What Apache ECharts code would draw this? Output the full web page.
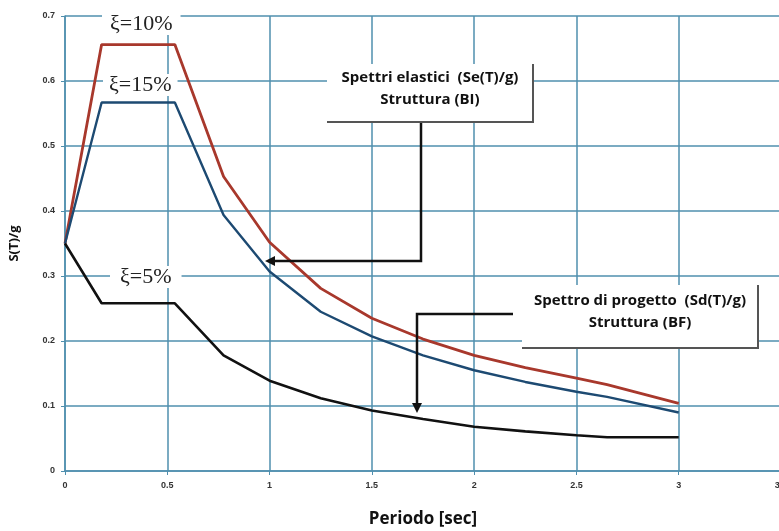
<!DOCTYPE html>
<html>
<head>
<meta charset="utf-8">
<script src="https://cdn.jsdelivr.net/npm/echarts@6/dist/echarts.min.js"></script>
<style>html,body{margin:0;padding:0;background:#fff;}#c{width:779px;height:531px;}</style>
</head>
<body>
<div id="c"></div>
<script>
// Data
var periods = [0, 0.179, 0.537, 0.775, 1.0, 1.25, 1.5, 1.75, 2.0, 2.25, 2.5, 2.65, 3.0];
var xi10 = [0.35, 0.656, 0.656, 0.453, 0.352, 0.281, 0.235, 0.203, 0.178, 0.159, 0.143, 0.133, 0.104];
var xi15 = [0.35, 0.567, 0.567, 0.394, 0.307, 0.245, 0.207, 0.178, 0.155, 0.137, 0.122, 0.114, 0.090];
var xi5  = [0.35, 0.258, 0.258, 0.178, 0.139, 0.112, 0.093, 0.080, 0.068, 0.061, 0.055, 0.052, 0.052];
var xLabels = ['0', '0.5', '1', '1.5', '2', '2.5', '3', '3.5'];
var seriesNames = ['ξ=10%', 'ξ=15%', 'ξ=5%'];

function pairs(ys) { return periods.map(function (x, i) { return [x, ys[i]]; }); }

var gridColor = '#4f8fae';
var chart = echarts.init(document.getElementById('c'));

var boxFont = { fontFamily: 'Open Sans', fontWeight: 'bold', fontSize: 15, fill: '#111', textAlign: 'center', lineHeight: 22 };
var xiFont = '22px "Liberation Serif"';

chart.setOption({
  animation: false,
  backgroundColor: '#fff',
  grid: { left: 65, top: 16, width: 716, height: 455, outerBoundsMode: 'none', containLabel: false },
  xAxis: {
    type: 'value', min: 0, max: 3.5, interval: 0.5,
    name: 'Periodo [sec]', nameLocation: 'middle', nameGap: 40,
    nameTextStyle: { fontFamily: 'Open Sans', fontWeight: 'bold', fontSize: 17, color: '#111' },
    axisLine: { show: true, lineStyle: { color: gridColor, width: 1.5 } },
    axisTick: { show: true, length: 4, lineStyle: { color: gridColor } },
    axisLabel: { fontSize: 9, fontWeight: 'bold', color: '#333', margin: 10,
      formatter: function (v) { return xLabels[Math.round(v / 0.5)]; } },
    splitLine: { show: true, lineStyle: { color: gridColor, width: 1.5 } }
  },
  yAxis: {
    type: 'value', min: 0, max: 0.7, interval: 0.1,
    name: 'S(T)/g', nameLocation: 'middle', nameGap: 44, nameRotate: 90,
    nameTextStyle: { fontFamily: 'Open Sans', fontWeight: 'bold', fontSize: 13, color: '#111' },
    axisLine: { show: true, lineStyle: { color: gridColor, width: 1.5 } },
    axisTick: { show: true, length: 4, lineStyle: { color: gridColor } },
    axisLabel: { fontSize: 9, fontWeight: 'bold', color: '#333', margin: 10 },
    splitLine: { show: true, lineStyle: { color: gridColor, width: 1.5 } }
  },
  series: [
    { name: seriesNames[0], type: 'line', data: pairs(xi10), showSymbol: false, lineStyle: { width: 2.8, color: '#a8382c' }, z: 3 },
    { name: seriesNames[1], type: 'line', data: pairs(xi15), showSymbol: false, lineStyle: { width: 2.4, color: '#1d4a72' }, z: 3 },
    { name: seriesNames[2], type: 'line', data: pairs(xi5), showSymbol: false, lineStyle: { width: 2.6, color: '#111' }, z: 3 }
  ],
  graphic: [
    // xi labels
    { type: 'text', left: 102, top: 13, z: 10, style: { text: seriesNames[0], backgroundColor: '#fff', padding: [0, 8], fill: '#222', font: xiFont } },
    { type: 'text', left: 103, top: 74, z: 10, style: { text: seriesNames[1], backgroundColor: '#fff', padding: [0, 6], fill: '#222', font: xiFont } },
    { type: 'text', left: 110, top: 266, z: 10, style: { text: seriesNames[2], backgroundColor: '#fff', padding: [0, 10], fill: '#222', font: xiFont } },
    // box 1
    { type: 'rect', z: 10, shape: { x: 327, y: 64, width: 206, height: 58 }, style: { fill: '#fff' } },
    { type: 'polyline', z: 11, shape: { points: [[533, 64], [533, 122], [327, 122]] }, style: { stroke: '#555', lineWidth: 2, fill: null } },
    { type: 'text', z: 12, x: 430, y: 67, style: Object.assign({}, boxFont, { text: 'Spettri elastici  (Se(T)/g)\nStruttura (BI)' }) },
    // arrow 1
    { type: 'polyline', z: 11, shape: { points: [[421, 123], [421, 261], [272, 261]] }, style: { stroke: '#111', lineWidth: 2.5, fill: null } },
    { type: 'polygon', z: 11, shape: { points: [[265, 261], [275, 256], [275, 266]] }, style: { fill: '#111' } },
    // box 2
    { type: 'rect', z: 10, shape: { x: 522, y: 285, width: 236, height: 63 }, style: { fill: '#fff' } },
    { type: 'polyline', z: 11, shape: { points: [[758, 285], [758, 348], [522, 348]] }, style: { stroke: '#555', lineWidth: 2, fill: null } },
    { type: 'text', z: 12, x: 640, y: 290, style: Object.assign({}, boxFont, { text: 'Spettro di progetto  (Sd(T)/g)\nStruttura (BF)' }) },
    // arrow 2
    { type: 'polyline', z: 11, shape: { points: [[513, 314], [417, 314], [417, 405]] }, style: { stroke: '#111', lineWidth: 2.5, fill: null } },
    { type: 'polygon', z: 11, shape: { points: [[417, 413], [412, 403], [422, 403]] }, style: { fill: '#111' } }
  ]
});
</script>
</body>
</html>
